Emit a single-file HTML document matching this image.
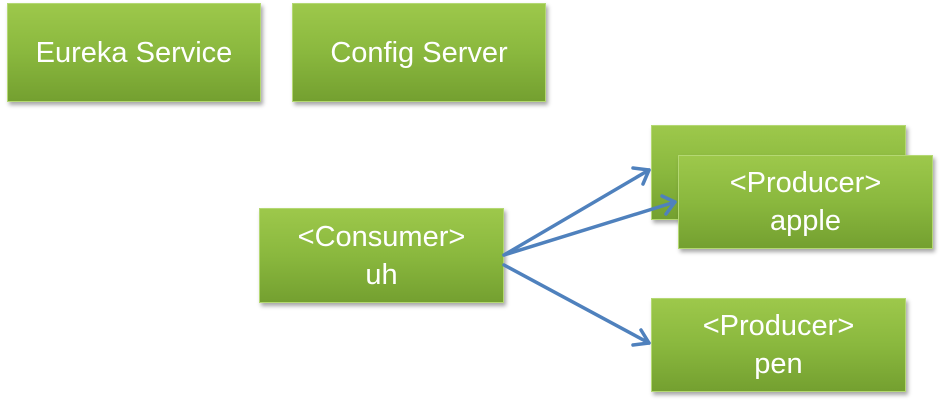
<!DOCTYPE html>
<html><head><style>
body{margin:0;width:940px;height:416px;background:#fff;position:relative;overflow:hidden;font-family:"Liberation Sans",sans-serif}
.b{position:absolute;box-sizing:border-box;border:1px solid #b4d873;background:linear-gradient(#9dc84b,#8ab83e 50%,#74a030);box-shadow:2px 3px 4px rgba(0,0,0,.35);color:#fff;display:flex;align-items:center;justify-content:center;text-align:center;font-size:29px;line-height:38px}
</style></head><body>
<div class="b" style="left:7px;top:3px;width:254px;height:99px">Eureka Service</div>
<div class="b" style="left:292px;top:3px;width:254px;height:99px">Config Server</div>
<div class="b" style="left:259px;top:208px;width:245px;height:95px">&lt;Consumer&gt;<br>uh</div>
<div class="b" style="left:651px;top:125px;width:255px;height:95px"></div>
<div class="b" style="left:678px;top:155px;width:255px;height:94px">&lt;Producer&gt;<br>apple</div>
<div class="b" style="left:651px;top:298px;width:255px;height:94px">&lt;Producer&gt;<br>pen</div>
<svg width="940" height="416" style="position:absolute;left:0;top:0">
<g stroke="#4f81bd" stroke-width="3.5" fill="none" stroke-linecap="round" stroke-linejoin="round">
<line x1="504" y1="255" x2="649" y2="170"/><polyline points="633,168 649,170 643,184"/>
<line x1="504" y1="255" x2="675" y2="202"/><polyline points="662,196 675,202 666,214"/>
<line x1="504" y1="265" x2="649" y2="343"/><polyline points="641,330 649,343 633,345"/>
</g></svg>
</body></html>
